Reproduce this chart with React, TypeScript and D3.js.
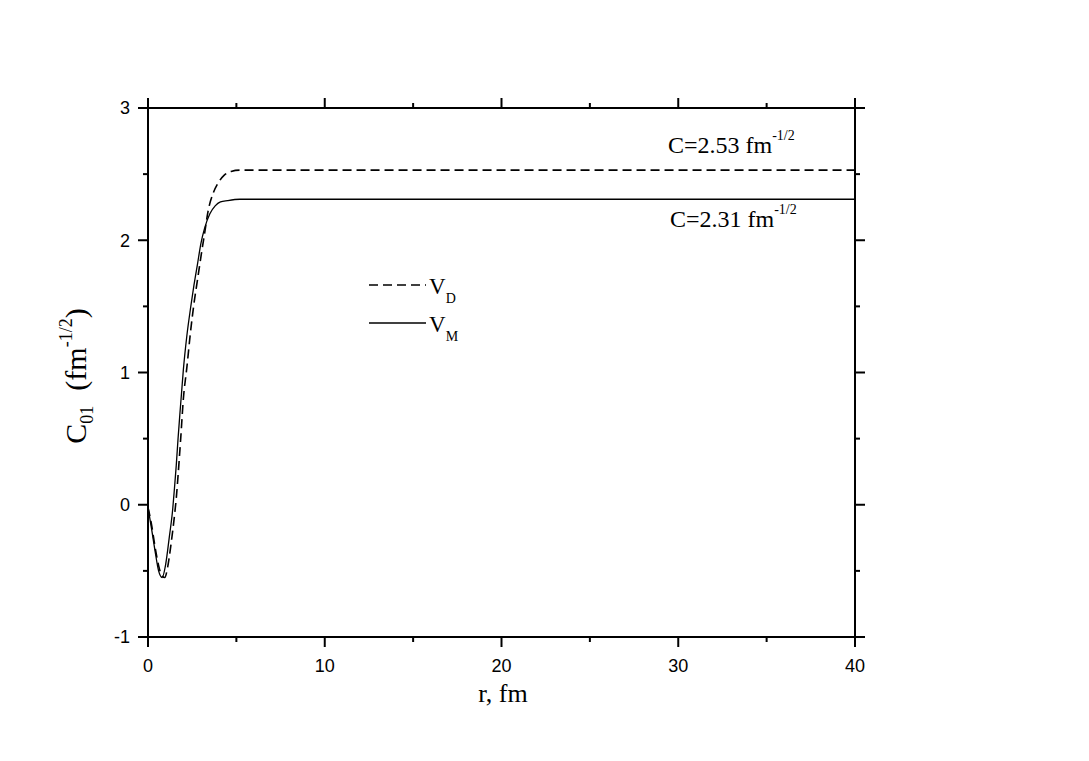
import React, { useEffect, useRef } from "react";
import * as d3 from "d3";

// V_M curve (solid)
const rM = [0, 0.2, 0.4, 0.6, 0.8, 1.0, 1.2, 1.4, 1.5, 1.6, 1.7, 1.8, 1.9, 2.0, 2.2, 2.4, 2.6, 2.8, 3.0, 3.2, 3.5, 3.8, 4.1, 4.5, 5.2, 40];
const cM = [-0.02, -0.18, -0.35, -0.5, -0.55, -0.45, -0.25, -0.03, 0.13, 0.3, 0.5, 0.68, 0.85, 1.02, 1.28, 1.48, 1.66, 1.82, 1.98, 2.09, 2.2, 2.26, 2.29, 2.3, 2.31, 2.31];

// V_D curve (dashed)
const rD = [0, 0.2, 0.4, 0.6, 0.8, 0.95, 1.1, 1.3, 1.5, 1.6, 1.7, 1.85, 2.0, 2.2, 2.4, 2.6, 2.8, 3.0, 3.2, 3.4, 3.7, 4.0, 4.3, 4.7, 5.2, 40];
const cD = [-0.02, -0.15, -0.32, -0.46, -0.54, -0.55, -0.48, -0.3, -0.08, 0.05, 0.22, 0.5, 0.8, 1.04, 1.3, 1.52, 1.7, 1.88, 2.05, 2.22, 2.36, 2.44, 2.49, 2.52, 2.53, 2.53];

const xTicks = [0, 10, 20, 30, 40];
const yTicks = [-1, 0, 1, 2, 3];

const W = 1089;
const H = 761;

const App = () => {
  const svgRef = useRef(null);

  useEffect(() => {
    const svg = d3.select(svgRef.current);
    svg.selectAll("*").remove();

    const left = 148, right = 855, top = 108, bottom = 637;
    const x = d3.scaleLinear().domain([0, 40]).range([left, right]);
    const y = d3.scaleLinear().domain([-1, 3]).range([bottom, top]);

    const xMinor = d3.range(5, 40, 10);
    const yMinor = d3.range(-0.5, 3, 1);

    // frame
    svg.append("rect")
      .attr("x", left).attr("y", top)
      .attr("width", right - left).attr("height", bottom - top)
      .attr("fill", "none").attr("stroke", "#000").attr("stroke-width", 2);

    const tick = (x1, y1, x2, y2) =>
      svg.append("line").attr("x1", x1).attr("y1", y1).attr("x2", x2).attr("y2", y2)
        .attr("stroke", "#000").attr("stroke-width", 2);

    xTicks.forEach((t) => {
      tick(x(t), bottom, x(t), bottom + 10);
      tick(x(t), top, x(t), top - 10);
    });
    xMinor.forEach((t) => {
      tick(x(t), bottom, x(t), bottom + 5);
      tick(x(t), top, x(t), top - 5);
    });
    yTicks.forEach((t) => {
      tick(left, y(t), left - 10, y(t));
      tick(right, y(t), right + 10, y(t));
    });
    yMinor.forEach((t) => {
      tick(left, y(t), left - 5, y(t));
      tick(right, y(t), right + 5, y(t));
    });

    // tick labels
    svg.selectAll(".xl").data(xTicks).enter().append("text")
      .attr("x", (d) => x(d)).attr("y", 672)
      .attr("text-anchor", "middle")
      .style("font-family", "Arial, 'Liberation Sans', sans-serif")
      .style("font-size", "18px")
      .text((d) => d);
    svg.selectAll(".yl").data(yTicks).enter().append("text")
      .attr("x", 130).attr("y", (d) => y(d)).attr("dy", "0.36em")
      .attr("text-anchor", "end")
      .style("font-family", "Arial, 'Liberation Sans', sans-serif")
      .style("font-size", "18px")
      .text((d) => d);

    // curves
    const line = d3.line().x((d) => x(d[0])).y((d) => y(d[1])).curve(d3.curveMonotoneX);
    svg.append("path")
      .datum(rD.map((r, i) => [r, cD[i]]))
      .attr("d", line).attr("fill", "none").attr("stroke", "#000")
      .attr("stroke-width", 1.6).attr("stroke-dasharray", "9,5");
    svg.append("path")
      .datum(rM.map((r, i) => [r, cM[i]]))
      .attr("d", line).attr("fill", "none").attr("stroke", "#000")
      .attr("stroke-width", 1.3);

    const serif = "'Times New Roman', 'Liberation Serif', serif";

    // annotations
    const note = (tx, ty, s) => {
      const t = svg.append("text").attr("x", tx).attr("y", ty)
        .style("font-family", serif).style("font-size", "24px");
      t.append("tspan").text(s);
      t.append("tspan").attr("dy", -13).style("font-size", "14px").text("-1/2");
    };
    note(668, 153, "C=2.53 fm");
    note(670, 227, "C=2.31 fm");

    // legend
    const leg = (ly, dash, sub) => {
      svg.append("line").attr("x1", 369).attr("x2", 426).attr("y1", ly).attr("y2", ly)
        .attr("stroke", "#000").attr("stroke-width", 1.5)
        .attr("stroke-dasharray", dash ? "9,5" : null);
      const t = svg.append("text").attr("x", 429).attr("y", ly + 9)
        .style("font-family", serif).style("font-size", "23px");
      t.append("tspan").text("V");
      t.append("tspan").attr("dy", 9).style("font-size", "14px").text(sub);
    };
    leg(285, true, "D");
    leg(323, false, "M");

    // axis titles
    svg.append("text").attr("x", 503).attr("y", 702)
      .attr("text-anchor", "middle")
      .style("font-family", serif).style("font-size", "26px")
      .text("r, fm");

    const yt = svg.append("text")
      .attr("transform", "translate(86,376) rotate(-90)")
      .attr("text-anchor", "middle")
      .style("font-family", serif).style("font-size", "30px");
    yt.append("tspan").text("C");
    yt.append("tspan").attr("dy", 7).style("font-size", "18px").text("01");
    yt.append("tspan").attr("dy", -7).text("\u00a0\u00a0(fm");
    yt.append("tspan").attr("dy", -14).style("font-size", "18px").text("-1/2");
    yt.append("tspan").attr("dy", 14).text(")");
  }, []);

  return (
    <svg ref={svgRef} width={W} height={H}
      style={{ position: "absolute", left: 0, top: 0, background: "#fff" }} />
  );
};

export default App;
